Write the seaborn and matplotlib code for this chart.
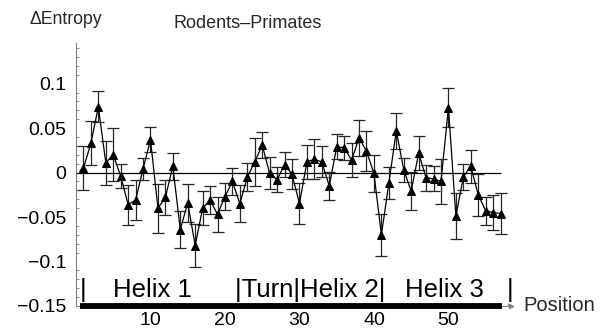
import numpy as np
import pandas as pd
import matplotlib
matplotlib.use("Agg")
import matplotlib.pyplot as plt
import seaborn as sns
from matplotlib.ticker import FixedLocator, MultipleLocator

# ---------------- data ----------------
positions = list(range(1, 58))
delta_entropy = [0.005, 0.033, 0.074, 0.011, 0.020, -0.004, -0.036, -0.031, 0.004, 0.037,
                 -0.040, -0.028, 0.007, -0.064, -0.034, -0.082, -0.040, -0.031, -0.047, -0.027,
                 -0.010, -0.035, -0.005, 0.012, 0.031, -0.001, -0.008, 0.009, -0.002, -0.035,
                 0.012, 0.015, 0.012, -0.015, 0.029, 0.028, 0.014, 0.039, 0.024, -0.001,
                 -0.070, -0.012, 0.047, 0.003, -0.021, 0.022, -0.006, -0.007, -0.010, 0.073,
                 -0.049, -0.005, 0.007, -0.025, -0.043, -0.045, -0.046]
errors = [0.025, 0.025, 0.0175, 0.025, 0.030, 0.0135, 0.0225, 0.0225, 0.0125, 0.014,
          0.0275, 0.020, 0.015, 0.021, 0.021, 0.024, 0.019, 0.016, 0.020, 0.015,
          0.015, 0.021, 0.016, 0.027, 0.015, 0.018, 0.014, 0.014, 0.017, 0.023,
          0.019, 0.0225, 0.0175, 0.016, 0.014, 0.0135, 0.019, 0.020, 0.0225, 0.021,
          0.024, 0.018, 0.020, 0.0135, 0.0215, 0.019, 0.015, 0.014, 0.0255, 0.022,
          0.026, 0.015, 0.0185, 0.0235, 0.0155, 0.0195, 0.023]

y_ticks = [0.1, 0.05, 0.0, -0.05, -0.1, -0.15]
y_tick_labels = ["0.1", "0.05", "0", "\u22120.05", "\u22120.1", "\u22120.15"]
x_ticks = [10, 20, 30, 40, 50]
x_tick_labels = ["10", "20", "30", "40", "50"]

region_labels = ["|", "Helix 1", "|Turn|Helix 2|", "Helix 3", "|"]
region_centers = [0.9, 10.3, 31.4, 49.4, 58.3]
domain_start, domain_end = 0.5, 57.2

title = "Rodents\u2013Primates"
y_label = "\u0394Entropy"
x_label = "Position"

df = pd.DataFrame({"pos": positions, "dH": delta_entropy, "err": errors})

# ---------------- style ----------------
sns.set_style("white")
plt.rcParams["font.family"] = ["Liberation Sans", "DejaVu Sans"]

fig = plt.figure(figsize=(6.10, 3.31), dpi=100)
ax = fig.add_axes([76 / 610, 25 / 331, (511 - 76) / 610, (306 - 43) / 331])

ax.set_xlim(0, 58.4)
ax.set_ylim(-0.15, 0.1457)

axis_gray = "#808080"

# zero reference line
ax.hlines(0, 0, max(positions), color="black", lw=0.9, zorder=1)

# error bars
ax.errorbar(df["pos"], df["dH"], yerr=df["err"], fmt="none", ecolor="#262626",
            elinewidth=0.9, capsize=4.2, capthick=0.9, zorder=2)

# connecting line with triangle markers
sns.lineplot(data=df, x="pos", y="dH", ax=ax, color="black", lw=0.9,
             marker="^", markersize=6.2, markeredgecolor="black",
             markerfacecolor="black", zorder=3)

# domain bar along the axis
ax.hlines(-0.15, domain_start, domain_end, color="black", lw=4.2, zorder=4,
          clip_on=False)

# region labels
for lab, xc in zip(region_labels, region_centers):
    ax.text(xc, -0.1402, lab, ha="center", va="baseline", fontsize=18.5,
            color="black")

# spines
for s in ["top", "right"]:
    ax.spines[s].set_visible(False)
ax.spines["left"].set_color(axis_gray)
ax.spines["bottom"].set_color(axis_gray)
ax.spines["left"].set_linewidth(0.8)
ax.spines["bottom"].set_linewidth(0.8)
ax.plot(1, 0, marker=">", color=axis_gray, markersize=3, transform=ax.transAxes,
        clip_on=False)

# ticks
ax.yaxis.set_major_locator(FixedLocator(y_ticks))
ax.set_yticklabels(y_tick_labels)
ax.yaxis.set_minor_locator(MultipleLocator(0.01))
ax.xaxis.set_major_locator(FixedLocator(x_ticks))
ax.set_xticklabels(x_tick_labels)
ax.xaxis.set_minor_locator(MultipleLocator(2))
ax.tick_params(axis="y", which="major", direction="in", length=4.5, width=0.7,
               color=axis_gray, labelsize=14, pad=7, labelcolor="black")
ax.tick_params(axis="y", which="minor", direction="in", length=2.2, width=0.6,
               color=axis_gray, left=True)
ax.tick_params(axis="x", which="major", direction="in", length=4.5, width=0.7,
               color=axis_gray, labelsize=14, pad=4, labelcolor="black")
ax.tick_params(axis="x", which="minor", direction="in", length=2.2, width=0.6,
               color=axis_gray, bottom=True)
ax.set_xlabel("")
ax.set_ylabel("")

# texts
fig.text(29 / 610, 1 - 20 / 331, y_label, ha="left", va="center", fontsize=12.7)
fig.text(248 / 610, 1 - 23 / 331, title, ha="center", va="center", fontsize=13)
fig.text(523 / 610, 1 - 305.5 / 331, x_label, ha="left", va="center", fontsize=14.5)

fig.savefig("out.png", dpi=100)
